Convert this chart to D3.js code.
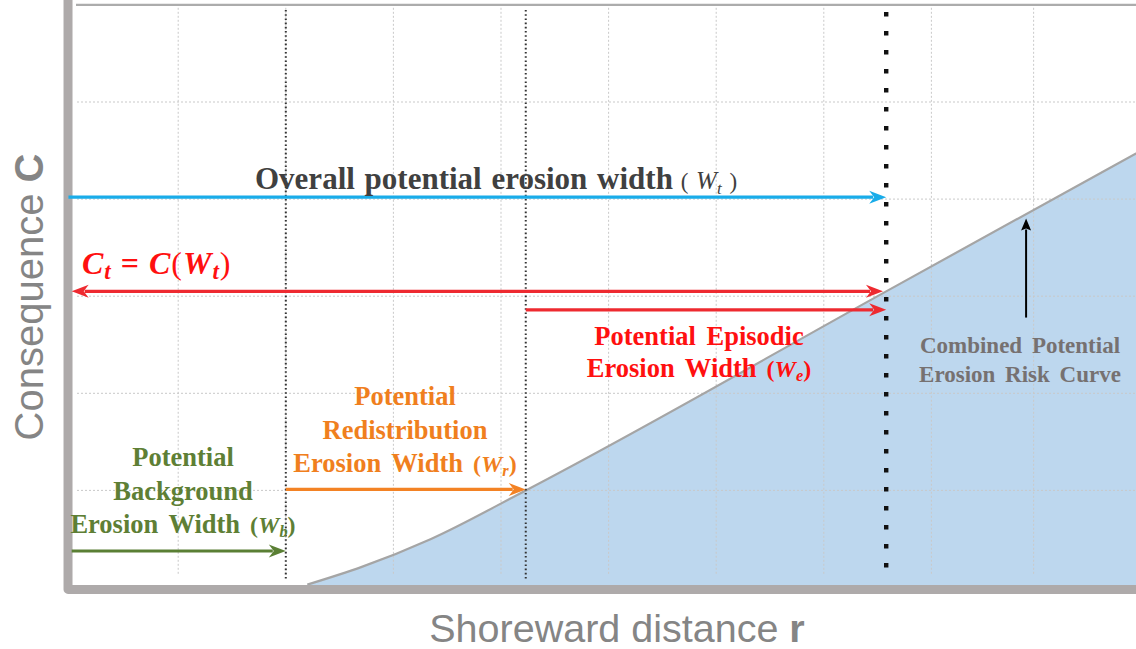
<!DOCTYPE html>
<html>
<head>
<meta charset="utf-8">
<script src="https://cdn.jsdelivr.net/npm/d3@7"></script>
<style>
  html, body { margin: 0; padding: 0; background: #fff; }
  svg { display: block; }
</style>
</head>
<body>
<div id="viz"></div>
<script>
const W = 1136;
const H = 649;

// grid positions in chart units (shoreward distance r, consequence C)
const X_GRID = [1, 2, 3, 4, 5, 6, 7, 8, 8.95];
const Y_GRID = [1, 2, 3, 4, 5];

// combined potential erosion risk curve, C(r)
const RISK_R = [2.2, 2.7, 3.35, 4.23, 7.58, 9.95];
const RISK_C = [0.03, 0.21, 0.5, 1.0, 3.05, 4.5];

// erosion width boundaries: Wb, Wb + Wr, Wt
const FINE_BOUNDARIES = [2.0, 4.23];
const TOTAL_BOUNDARY = [7.58];

// width arrows
const ARROW_NAMES = ["Wt", "Ct", "We", "Wr", "Wb"];
const ARROW_FROM = [-0.02, 0.01, 4.23, 2.0, 0.01];
const ARROW_TO = [7.58, 7.55, 7.58, 4.23, 2.0];
const ARROW_LEVEL = [4.02, 3.05, 2.86, 1.01, 0.376];

// pointer to the risk curve
const POINTER_R = 8.88;
const POINTER_FROM = 2.78;
const POINTER_TO = 3.8;

const COLORS = {
  Wt: "#19ace9",
  Ct: "#ee2a30",
  We: "#ee2a30",
  Wr: "#f38224",
  Wb: "#5a7f34",
  axis: "#aeaaaa",
  grid: "#c9c9c9",
  fill: "#bdd7ee",
  curve: "#a5a5a5",
  label: "#858585"
};
const HEADS = { Wt: ["end"], Ct: ["start", "end"], We: ["end"], Wr: ["end"], Wb: ["end"] };

const SERIF = "'Liberation Serif', 'Times New Roman', serif";
const SANS = "'Liberation Sans', Arial, sans-serif";

const x = d3.scaleLinear().domain([0, 10]).range([70.6, 1146.6]);
const y = d3.scaleLinear().domain([0, 6]).range([587.5, 4.9]);

const svg = d3.select("#viz").append("svg")
  .attr("width", W)
  .attr("height", H);

// grid
const grid = svg.append("g")
  .attr("stroke", COLORS.grid)
  .attr("stroke-width", 1)
  .attr("stroke-dasharray", "2,2");

grid.selectAll("line.vx")
  .data(X_GRID)
  .join("line")
  .attr("x1", d => x(d)).attr("x2", d => x(d))
  .attr("y1", y(5.97)).attr("y2", y(0.13));

grid.selectAll("line.hy")
  .data(Y_GRID)
  .join("line")
  .attr("x1", 77).attr("x2", W)
  .attr("y1", d => y(d)).attr("y2", d => y(d));

// risk curve area
const riskPoints = RISK_R.map((r, i) => [r, RISK_C[i]]);

svg.append("path")
  .datum(riskPoints)
  .attr("fill", COLORS.fill)
  .attr("d", d3.area()
    .x(d => x(d[0]))
    .y0(y(0))
    .y1(d => y(d[1]))
    .curve(d3.curveMonotoneX));

// keep the grid visible over the shaded area
grid.raise();

svg.append("path")
  .datum(riskPoints)
  .attr("fill", "none")
  .attr("stroke", COLORS.curve)
  .attr("stroke-width", 2.2)
  .attr("d", d3.line()
    .x(d => x(d[0]))
    .y(d => y(d[1]))
    .curve(d3.curveMonotoneX));

// top frame line
svg.append("line")
  .attr("x1", 76).attr("x2", W)
  .attr("y1", y(6)).attr("y2", y(6))
  .attr("stroke", "#acacac")
  .attr("stroke-width", 2.4);

// width boundaries
svg.selectAll("line.fine")
  .data(FINE_BOUNDARIES)
  .join("line")
  .attr("x1", d => x(d)).attr("x2", d => x(d))
  .attr("y1", 10).attr("y2", 580)
  .attr("stroke", "#333")
  .attr("stroke-width", 2)
  .attr("stroke-dasharray", "1.6,2.6");

svg.selectAll("line.total")
  .data(TOTAL_BOUNDARY)
  .join("line")
  .attr("x1", d => x(d)).attr("x2", d => x(d))
  .attr("y1", 12).attr("y2", 575)
  .attr("stroke", "#111")
  .attr("stroke-width", 4.4)
  .attr("stroke-dasharray", "4.4,14.6");

// axes frame
svg.append("path")
  .attr("d", `M${x(-0.024)},0 V${y(-0.02)} H${W}`)
  .attr("fill", "none")
  .attr("stroke", COLORS.axis)
  .attr("stroke-width", 9)
  .attr("stroke-linejoin", "round");

function arrowHead(g, tipX, tipY, dx, dy, color, len, half, notch) {
  const px = -dy, py = dx;
  const pts = [
    [tipX, tipY],
    [tipX - dx * len + px * half, tipY - dy * len + py * half],
    [tipX - dx * (len - notch), tipY - dy * (len - notch)],
    [tipX - dx * len - px * half, tipY - dy * len - py * half]
  ];
  g.append("path")
    .attr("d", "M" + pts.map(p => p.join(",")).join("L") + "Z")
    .attr("fill", color);
}

function drawArrow(g, x1, y1, x2, y2, color, width, heads, len = 17, half = 6.5, notch = 5) {
  const L = Math.hypot(x2 - x1, y2 - y1);
  const dx = (x2 - x1) / L, dy = (y2 - y1) / L;
  const cut = len - notch + 1;
  const sx = heads.includes("start") ? x1 + dx * cut : x1;
  const sy = heads.includes("start") ? y1 + dy * cut : y1;
  const ex = heads.includes("end") ? x2 - dx * cut : x2;
  const ey = heads.includes("end") ? y2 - dy * cut : y2;
  g.append("line")
    .attr("x1", sx).attr("y1", sy)
    .attr("x2", ex).attr("y2", ey)
    .attr("stroke", color)
    .attr("stroke-width", width);
  if (heads.includes("end")) arrowHead(g, x2, y2, dx, dy, color, len, half, notch);
  if (heads.includes("start")) arrowHead(g, x1, y1, -dx, -dy, color, len, half, notch);
}

const arrows = svg.append("g");
ARROW_NAMES.forEach((name, i) => {
  drawArrow(arrows,
    x(ARROW_FROM[i]), y(ARROW_LEVEL[i]),
    x(ARROW_TO[i]), y(ARROW_LEVEL[i]),
    COLORS[name], 3.2, HEADS[name]);
});

drawArrow(arrows,
  x(POINTER_R), y(POINTER_FROM),
  x(POINTER_R), y(POINTER_TO),
  "#000", 2, ["end"], 12, 5, 2);

// labels
function addLabel(lines, cx, y0, lineGap, color, size, subName, subSize) {
  const t = svg.append("text")
    .attr("font-family", SERIF)
    .attr("font-weight", "bold")
    .attr("font-size", size)
    .attr("fill", color)
    .attr("text-anchor", "middle")
    .attr("word-spacing", 4);
  lines.forEach((line, i) => {
    const ts = t.append("tspan")
      .attr("x", cx)
      .attr("y", y0 + i * lineGap)
      .text(line);
    if (i === lines.length - 1 && subName) {
      ts.append("tspan").attr("font-size", subSize).text(" (");
      ts.append("tspan").attr("font-size", subSize).attr("font-style", "italic").text("W");
      ts.append("tspan").attr("font-size", subSize * 0.68).attr("font-style", "italic")
        .attr("dy", 4).text(subName);
      ts.append("tspan").attr("font-size", subSize).attr("dy", -4).text(")");
    }
  });
  return t;
}

// overall potential erosion width
const overall = svg.append("text")
  .attr("x", 255)
  .attr("y", 189)
  .attr("font-family", SERIF)
  .attr("font-weight", "bold")
  .attr("font-size", 31)
  .attr("fill", "#404040")
  .attr("word-spacing", 2)
  .text("Overall potential erosion width");
overall.append("tspan").attr("font-size", 23).attr("font-weight", "normal").text("  ( ");
overall.append("tspan").attr("font-size", 25).attr("font-style", "italic").attr("font-weight", "normal").text("W");
overall.append("tspan").attr("font-size", 17).attr("font-style", "italic").attr("font-weight", "normal")
  .attr("dy", 5).text("t");
overall.append("tspan").attr("font-size", 23).attr("font-weight", "normal").attr("dy", -5).text(" )");

// Ct = C(Wt)
const ct = svg.append("text")
  .attr("x", 82)
  .attr("y", 274)
  .attr("font-family", SERIF)
  .attr("font-weight", "bold")
  .attr("font-style", "italic")
  .attr("font-size", 32)
  .attr("letter-spacing", 1)
  .attr("fill", "#ff1010");
ct.append("tspan").text("C");
ct.append("tspan").attr("font-size", 23).attr("dy", 5).text("t");
ct.append("tspan").attr("dy", -5).attr("font-style", "normal").text("  =  ");
ct.append("tspan").text("C");
ct.append("tspan").attr("font-style", "normal").attr("font-weight", "normal").text("(");
ct.append("tspan").text("W");
ct.append("tspan").attr("font-size", 23).attr("dy", 5).text("t");
ct.append("tspan").attr("dy", -5).attr("font-style", "normal").attr("font-weight", "normal").text(")");

addLabel(["Potential Episodic", "Erosion Width"], 699, 345, 32, "#ff1010", 26.5, "e", 24);
addLabel(["Potential", "Redistribution", "Erosion Width"], 405, 405, 33.5, "#f07f1e", 26.5, "r", 24);
addLabel(["Potential", "Background", "Erosion Width"], 183, 466, 33.5, "#5e7f35", 26.5, "b", 24);
addLabel(["Combined Potential", "Erosion Risk Curve"], 1020, 353, 29, "#767171", 23);

// axis titles
const xTitle = svg.append("text")
  .attr("x", 617)
  .attr("y", 642)
  .attr("text-anchor", "middle")
  .attr("font-family", SANS)
  .attr("font-size", 39.5)
  .attr("fill", COLORS.label)
  .text("Shoreward distance ");
xTitle.append("tspan").attr("font-weight", "bold").text("r");

const yTitle = svg.append("text")
  .attr("transform", "translate(43,297) rotate(-90)")
  .attr("text-anchor", "middle")
  .attr("font-family", SANS)
  .attr("font-size", 40)
  .attr("fill", COLORS.label)
  .text("Consequence ");
yTitle.append("tspan").attr("font-weight", "bold").text("C");
</script>
</body>
</html>
